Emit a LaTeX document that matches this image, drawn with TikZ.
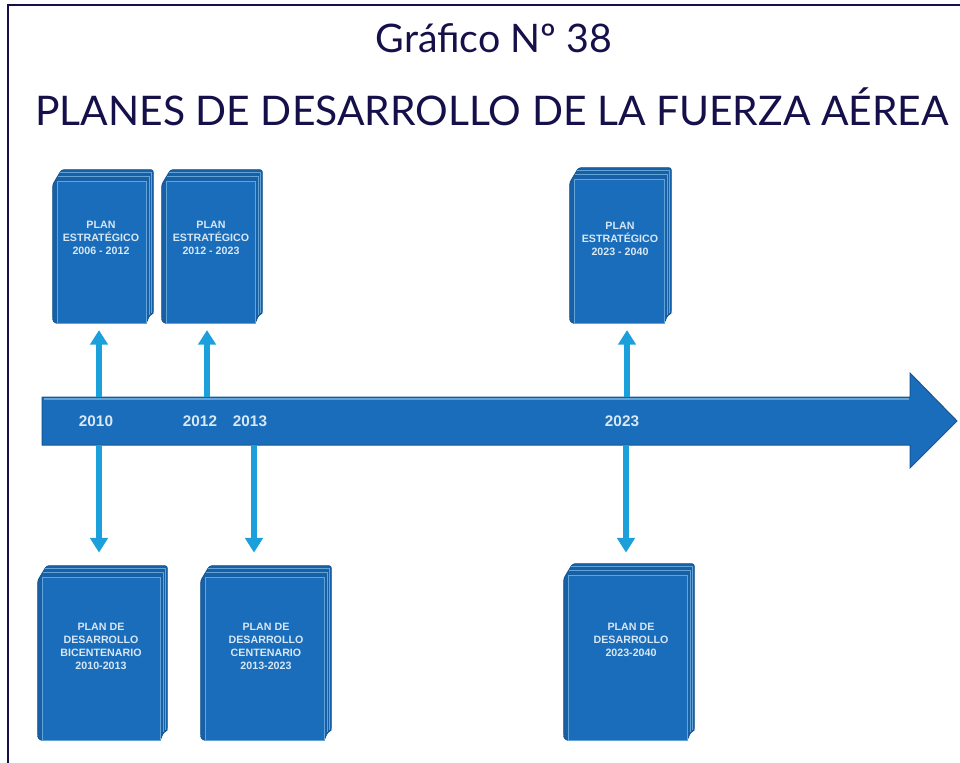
\documentclass[tikz,border=0pt]{standalone}
\usepackage{fontspec}
\setmainfont{Lato}
\setsansfont{Liberation Sans}
\usetikzlibrary{arrows.meta,backgrounds}
\definecolor{navy}{HTML}{16104A}
\definecolor{bookblue}{HTML}{1A6DBB}
\definecolor{pageblue}{HTML}{62A3D8}
\definecolor{linkblue}{HTML}{1CA0DC}
\definecolor{paletext}{HTML}{D8E7F4}
\tikzset{
  cover/.style={draw=pageblue, line width=0.6pt, fill=bookblue, inner sep=0pt},
  back/.style={fill=bookblue!88!black, draw=bookblue!75!black, line width=0.5pt},
  booktext/.style={text=paletext, align=center, font=\sffamily\bfseries\fontsize{8}{9.75}\selectfont},
  year/.style={text=paletext, font=\sffamily\bfseries\fontsize{11.5}{13}\selectfont},
  link/.style={linkblue, line width=4.5pt, -{Triangle[width=13pt,length=11pt]}},
}
\begin{document}
\begin{tikzpicture}[x=0.75pt,y=-0.75pt]
\useasboundingbox (0,0) rectangle (960,763);
% frame
\draw[navy, line width=1.5pt] (8,763) -- (8,5) -- (960,5);
% titles
\node[navy, anchor=base, font=\fontsize{29.5}{34}\selectfont] (titulo) at (494,53) {Gráfico Nº 38};
\node[navy, anchor=base, font=\fontsize{30.6}{36}\selectfont] (subtitulo) at (492,126) {PLANES DE DESARROLLO DE LA FUERZA AÉREA};
% timeline
\filldraw[fill=bookblue, draw=bookblue!80!black, line width=0.75pt] (42,397) -- (910,397) -- (910,373) -- (957,421) -- (910,468) -- (910,445) -- (42,445) -- cycle;
\draw[pageblue, line width=0.8pt] (44,399) -- (909,399);
\node[year] (y2010) at (96,421) {2010};
\node[year] (y2012) at (200,421) {2012};
\node[year] (y2013) at (250,421) {2013};
\node[year] (y2023) at (622,421) {2023};
\coordinate (up2010) at (99,397);
\coordinate (up2012) at (207,397);
\coordinate (up2023) at (627,397);
\coordinate (dn2010) at (99,445);
\coordinate (dn2013) at (254,445);
\coordinate (dn2023) at (626,445);
% books
\node[cover, minimum width=66.75pt, minimum height=106.5pt] (b1) at (101.5,252) {};
\node[cover, minimum width=66.75pt, minimum height=106.5pt] (b2) at (210.5,252) {};
\node[cover, minimum width=67.5pt, minimum height=108pt] (b3) at (619,251) {};
\node[cover, minimum width=88.5pt, minimum height=122.25pt] (b4) at (101,658.5) {};
\node[cover, minimum width=89.25pt, minimum height=122.25pt] (b5) at (264.5,658.5) {};
\node[cover, minimum width=89.25pt, minimum height=123.75pt] (b6) at (627.5,657.5) {};
\begin{scope}[on background layer]
\foreach \b in {b1,b2,b3,b4,b5,b6}{
  \filldraw[back, rounded corners=2pt] ([shift={(-4,4)}]\b.north west) -- ([shift={(5,-11)}]\b.north west)
    -- ([shift={(7,-11)}]\b.north east) -- ([shift={(7,-10)}]\b.south east) -- ([shift={(3,-8)}]\b.south east)
    -- (\b.south east) -- ([shift={(-2,0)}]\b.south west) -- ([shift={(-4,-4)}]\b.south west) -- cycle;
  \draw[pageblue, line width=0.6pt] ([shift={(1,-4)}]\b.north west) -- ([shift={(3,-4)}]\b.north east) -- ([shift={(3,-8)}]\b.south east);
  \draw[pageblue, line width=0.6pt] ([shift={(3,-8)}]\b.north west) -- ([shift={(5,-8)}]\b.north east) -- ([shift={(5,-10)}]\b.south east);
}
\end{scope}
\node[booktext] (tx1) at (101,238) {PLAN\\ESTRATÉGICO\\2006 - 2012};
\node[booktext] (tx2) at (211,238) {PLAN\\ESTRATÉGICO\\2012 - 2023};
\node[booktext] (tx3) at (620,239) {PLAN\\ESTRATÉGICO\\2023 - 2040};
\node[booktext] (tx4) at (101,646) {PLAN DE\\DESARROLLO\\BICENTENARIO\\2010-2013};
\node[booktext] (tx5) at (266,646) {PLAN DE\\DESARROLLO\\CENTENARIO\\2013-2023};
\node[booktext] (tx6) at (631,640) {PLAN DE\\DESARROLLO\\2023-2040};
% connectors
\draw[link, shorten >=5pt] (up2010) -- (up2010 |- b1.south);
\draw[link, shorten >=5pt] (up2012) -- (up2012 |- b2.south);
\draw[link, shorten >=5pt] (up2023) -- (up2023 |- b3.south);
\draw[link, shorten >=18pt] (dn2010) -- (dn2010 |- b4.north);
\draw[link, shorten >=18pt] (dn2013) -- (dn2013 |- b5.north);
\draw[link, shorten >=16.5pt] (dn2023) -- (dn2023 |- b6.north);
\end{tikzpicture}
\end{document}
